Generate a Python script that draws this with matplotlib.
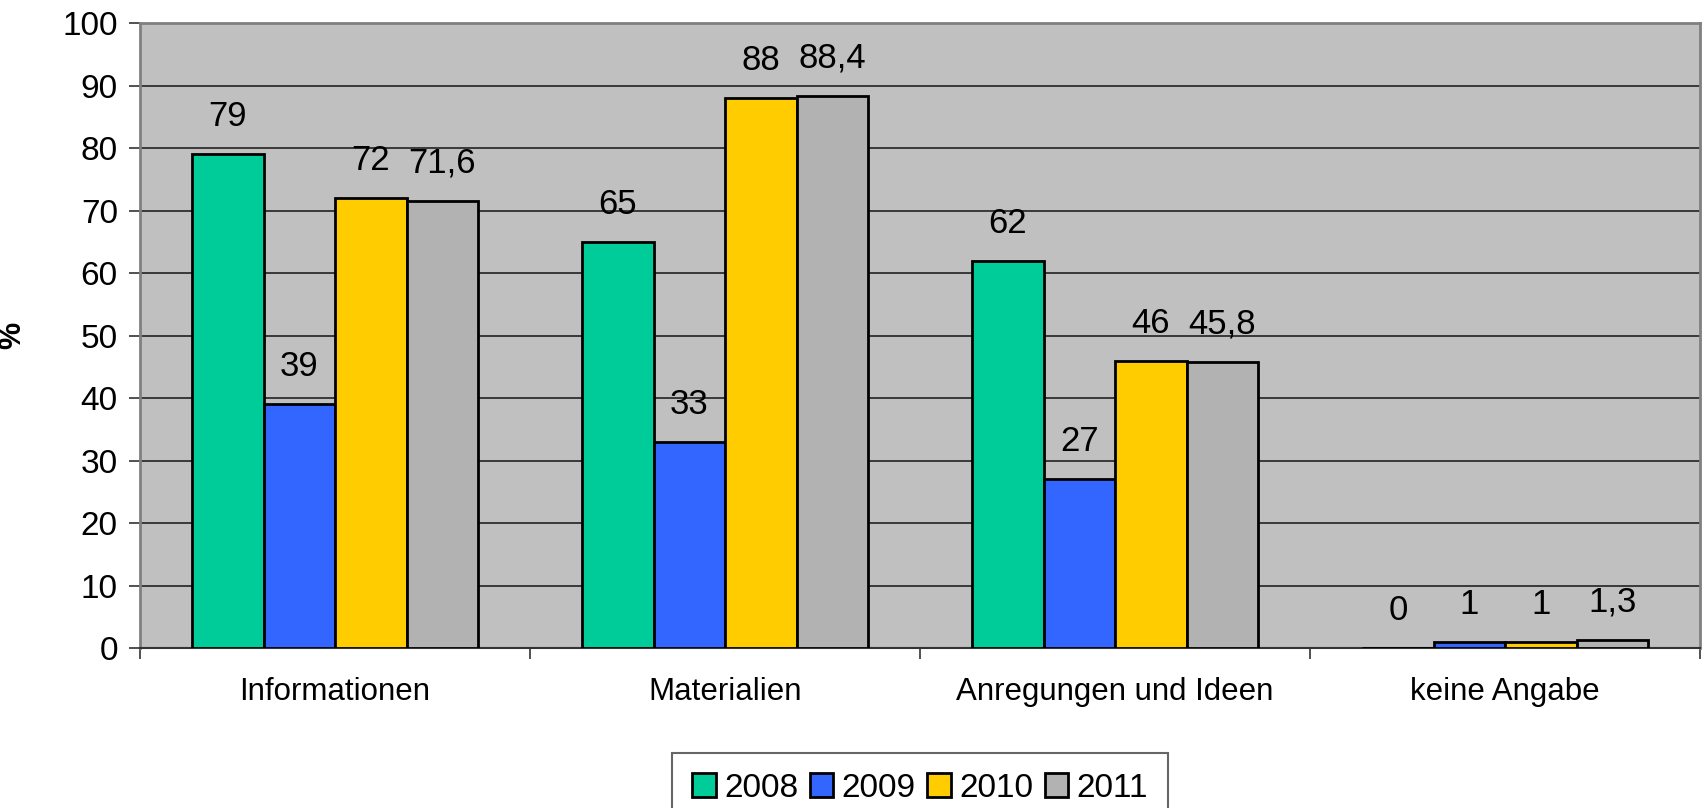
import matplotlib
matplotlib.use("Agg")
import matplotlib.pyplot as plt
import numpy as np
from matplotlib.patches import Patch

categories = ["Informationen", "Materialien", "Anregungen und Ideen", "keine Angabe"]
years = ["2008", "2009", "2010", "2011"]
v2008 = [79, 65, 62, 0]
v2009 = [39, 33, 27, 1]
v2010 = [72, 88, 46, 1]
v2011 = [71.6, 88.4, 45.8, 1.3]
labels2008 = ["79", "65", "62", "0"]
labels2009 = ["39", "33", "27", "1"]
labels2010 = ["72", "88", "46", "1"]
labels2011 = ["71,6", "88,4", "45,8", "1,3"]
yticks = [0, 10, 20, 30, 40, 50, 60, 70, 80, 90, 100]

series = [v2008, v2009, v2010, v2011]
series_labels = [labels2008, labels2009, labels2010, labels2011]
colors = ["#00CC99", "#3366FF", "#FFCC00", "#B2B2B2"]

plt.rcParams['font.family'] = ['Liberation Sans', 'DejaVu Sans']

fig = plt.figure(figsize=(17.04, 8.08), dpi=100)
ax = fig.add_axes([0.0822, 0.198, 0.9155, 0.7735])
ax.set_facecolor("#C0C0C0")

x = np.arange(len(categories))
bw = 0.1833
for i, (vals, labs, c) in enumerate(zip(series, series_labels, colors)):
    pos = x + (i - 1.5) * bw
    ax.bar(pos, vals, width=bw, color=c, edgecolor="black", linewidth=2, zorder=3)
    for p, v, l in zip(pos, vals, labs):
        ax.annotate(l, (p, v), xytext=(0, 27), textcoords="offset points",
                    ha="center", va="center", fontsize=25, color="black", zorder=4)

ax.set_xlim(-0.5, len(categories) - 0.5)
ax.set_ylim(0, 100)
ax.set_yticks(yticks)
ax.set_yticklabels([str(t) for t in yticks], fontsize=24)
ax.yaxis.grid(True, color="#222222", linewidth=1.2, zorder=0)
ax.set_axisbelow(True)

ax.set_xticks(x)
ax.set_xticklabels(categories, fontsize=22.5)
ax.tick_params(axis="x", which="major", length=0, pad=21)
ax.set_xticks(np.arange(-0.5, len(categories)), minor=True)
ax.tick_params(axis="x", which="minor", length=8, width=1.2, color="#333333")
ax.tick_params(axis="y", length=8, width=1.2, color="#333333", pad=8)

for s in ["top", "right", "left"]:
    ax.spines[s].set_color("#808080")
    ax.spines[s].set_linewidth(2)
ax.spines["bottom"].set_color("#333333")
ax.spines["bottom"].set_linewidth(1.5)

ax.set_ylabel("%", fontsize=22, fontweight="bold")
ax.yaxis.set_label_coords(-0.072, 0.5)

handles = [Patch(facecolor=c, edgecolor="black", linewidth=2, label=y) for c, y in zip(colors, years)]
leg = fig.legend(handles=handles, loc="lower center", bbox_to_anchor=(0.54, -0.04), ncol=4,
                 fontsize=24, frameon=True, fancybox=False, handlelength=0.7, handleheight=0.7,
                 handletextpad=0.25, columnspacing=0.35, borderpad=0.6)
leg.get_frame().set_edgecolor("#404040")
leg.get_frame().set_linewidth(1.5)

fig.savefig("out.png", dpi=100)
